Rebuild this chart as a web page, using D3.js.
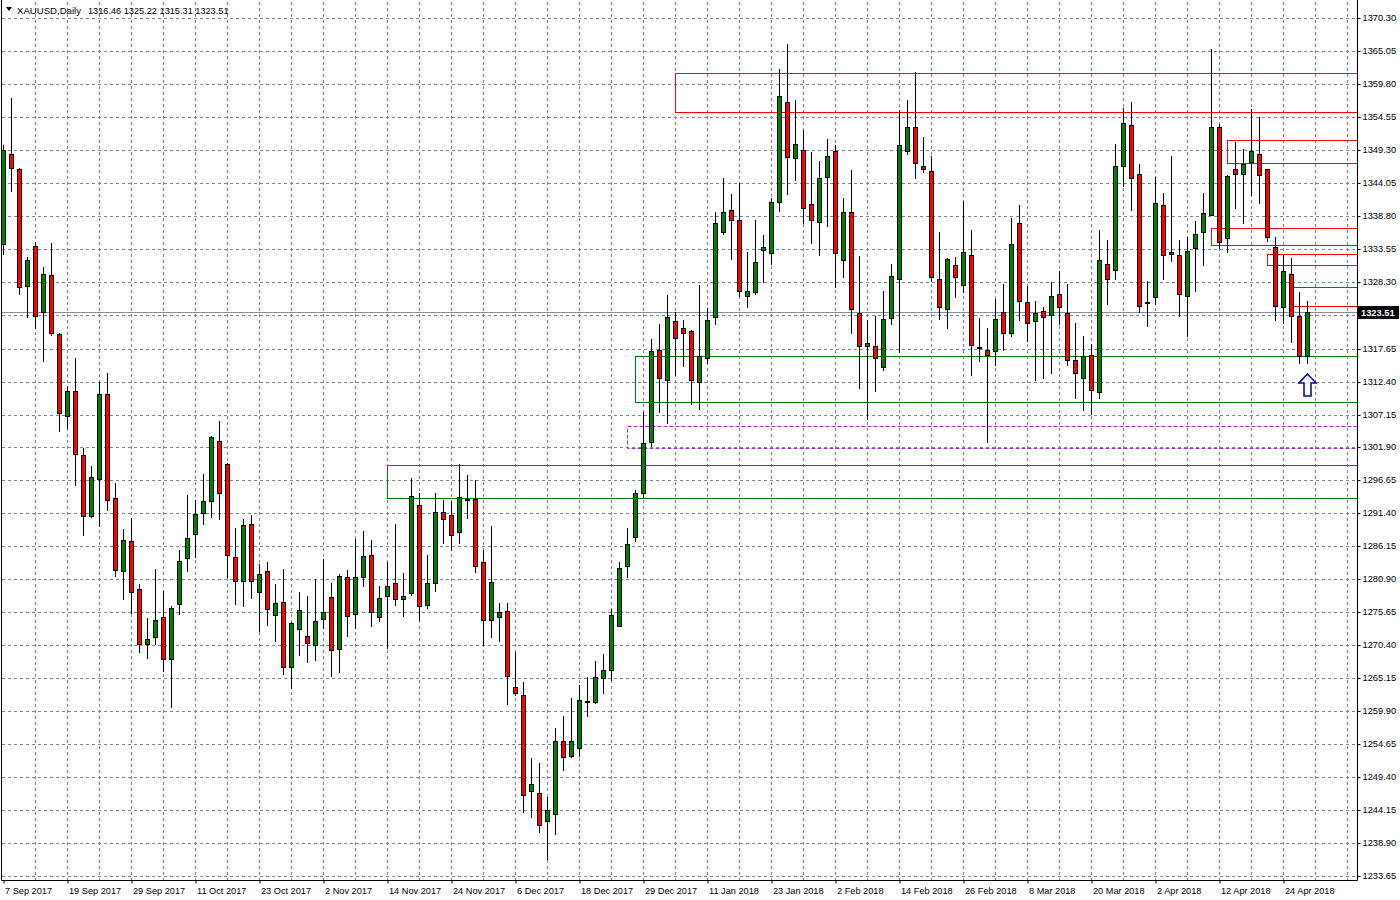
<!DOCTYPE html>
<html><head><meta charset="utf-8">
<script src="https://cdn.jsdelivr.net/npm/d3@7"></script>
<style>
body{margin:0;background:#fff;}
svg{display:block;}
text{font-family:"Liberation Sans",Arial,sans-serif;}
</style>
</head><body>
<svg id="chart" width="1400" height="900"></svg>
<script>
// ---------- DATA ----------
const symbolTitle = "XAUUSD,Daily";
const headerValues = "1316.46 1325.22 1315.31 1323.51";
const lastPrice = 1323.51;

const open = [1334.3,1348.7,1346.2,1327.6,1334.0,1323.5,1329.4,1320.0,1306.9,1310.9,
1300.7,1291.0,1296.9,1310.4,1293.9,1282.2,1287.0,1279.3,1270.6,1271.7,
1274.9,1268.2,1277.0,1284.3,1288.1,1291.5,1293.4,1302.9,1299.3,1284.5,
1280.6,1289.7,1278.9,1282.2,1275.2,1277.3,1267.0,1273.0,1271.9,1270.5,
1274.6,1278.1,1269.8,1281.2,1275.3,1281.2,1284.7,1274.9,1278.2,1280.3,
1277.7,1278.7,1292.8,1276.8,1280.3,1291.7,1291.1,1288.5,1293.5,1293.7,
1283.6,1274.4,1274.9,1275.9,1263.8,1262.4,1247.2,1246.8,1242.4,1243.6,
1255.2,1252.7,1254.1,1261.3,1261.3,1265.2,1266.4,1273.5,1283.1,1287.7,
1294.7,1302.8,1317.4,1312.6,1322.1,1320.9,1320.4,1312.3,1316.1,1322.7,
1336.2,1339.8,1338.1,1326.1,1326.6,1333.4,1332.8,1341.0,1357.0,1348.0,
1349.3,1340.6,1337.8,1344.9,1349.1,1331.7,1339.4,1323.3,1318.0,1318.0,
1314.7,1322.5,1328.8,1349.1,1353.0,1346.8,1346.0,1328.8,1323.9,1330.9,
1327.7,1332.5,1317.9,1317.5,1317.2,1323.4,1320.1,1337.6,1325.0,1322.0,
1323.6,1323.0,1326.3,1323.3,1315.9,1312.9,1316.6,1310.7,1331.1,1330.1,
1346.7,1353.2,1345.4,1324.9,1325.8,1340.5,1332.7,1332.5,1326.1,1333.6,
1336.2,1339.0,1352.9,1335.2,1346.2,1345.4,1347.3,1348.6,1346.2,1333.8,
1324.2,1329.5,1322.8,1316.46];

const high = [1350.0,1357.6,1346.4,1332.2,1334.6,1330.6,1334.4,1320.1,1311.7,1316.1,
1301.8,1298.9,1312.4,1313.8,1296.3,1288.9,1290.6,1280.2,1274.8,1282.5,
1279.1,1276.6,1285.6,1294.3,1293.6,1297.6,1303.8,1306.1,1299.4,1289.0,
1290.5,1291.1,1283.3,1283.7,1280.2,1282.5,1274.1,1278.9,1278.3,1281.0,
1284.1,1280.3,1281.8,1282.4,1287.3,1288.6,1287.2,1279.8,1283.6,1289.7,
1281.9,1297.0,1294.7,1284.7,1294.6,1293.5,1293.3,1299.2,1297.5,1296.7,
1285.5,1289.4,1277.2,1277.1,1269.4,1264.6,1252.5,1251.6,1246.2,1257.2,
1259.2,1262.0,1264.0,1265.3,1267.9,1269.0,1276.2,1283.7,1289.1,1295.2,
1307.6,1319.1,1321.6,1326.2,1323.4,1322.2,1320.6,1327.8,1324.1,1339.4,
1344.8,1342.2,1344.0,1333.1,1338.1,1335.7,1341.7,1362.1,1366.1,1357.2,
1352.4,1348.9,1347.5,1351.0,1350.0,1341.6,1346.1,1332.4,1322.2,1322.8,
1326.9,1331.1,1355.6,1357.2,1361.7,1351.3,1348.3,1336.2,1332.1,1332.2,
1341.2,1336.6,1322.5,1321.0,1325.5,1327.9,1338.4,1340.5,1327.6,1325.2,
1324.2,1328.2,1330.0,1327.9,1321.7,1319.6,1318.3,1336.6,1334.9,1350.2,
1355.9,1356.9,1347.0,1328.4,1344.9,1342.5,1348.3,1334.9,1335.5,1337.9,
1342.5,1365.3,1353.4,1345.3,1350.6,1349.4,1355.8,1354.6,1346.3,1335.4,
1332.5,1332.0,1326.6,1325.22];

const low = [1332.7,1342.7,1326.3,1322.7,1320.9,1315.6,1319.8,1304.6,1305.0,1296.0,
1288.0,1290.8,1289.4,1291.9,1281.4,1277.7,1275.5,1269.4,1268.3,1270.6,
1266.3,1260.6,1275.3,1282.2,1284.5,1289.7,1290.8,1290.5,1281.2,1276.9,
1276.6,1277.9,1272.6,1273.6,1271.0,1265.8,1263.6,1268.9,1267.8,1268.1,
1273.2,1265.5,1266.1,1271.8,1273.1,1279.9,1273.4,1274.2,1269.9,1276.8,
1275.1,1278.4,1274.4,1276.3,1279.0,1286.7,1285.5,1286.7,1290.6,1282.0,
1270.4,1271.7,1271.0,1261.0,1262.5,1243.9,1243.0,1240.6,1236.4,1240.3,
1250.5,1252.6,1252.7,1259.2,1261.2,1262.8,1264.9,1273.4,1281.2,1287.0,
1293.9,1302.2,1307.5,1305.8,1313.5,1314.8,1308.9,1308.1,1315.3,1321.5,
1335.9,1331.9,1326.0,1324.2,1326.3,1328.3,1331.2,1339.5,1342.3,1344.5,
1337.6,1334.4,1332.6,1337.2,1327.4,1329.0,1320.2,1311.4,1306.5,1310.9,
1314.2,1321.5,1317.1,1348.6,1344.8,1345.7,1328.4,1322.3,1320.9,1325.8,
1326.6,1313.4,1315.6,1302.7,1315.1,1317.5,1319.6,1322.2,1318.9,1312.7,
1313.0,1313.7,1321.5,1315.0,1309.7,1307.8,1307.2,1309.7,1324.7,1328.8,
1343.5,1339.8,1323.4,1321.2,1324.7,1328.8,1331.6,1322.8,1319.7,1326.9,
1331.0,1339.0,1333.6,1333.1,1340.0,1337.6,1342.1,1340.9,1334.8,1322.2,
1321.8,1318.7,1315.3,1315.31];

const close = [1349.3,1346.4,1327.5,1331.8,1322.9,1329.5,1320.2,1307.4,1310.9,1300.9,
1291.0,1297.2,1310.4,1293.5,1282.4,1287.1,1278.9,1270.6,1271.4,1274.4,
1268.2,1276.3,1283.8,1287.5,1291.3,1293.4,1303.5,1294.6,1284.8,1280.6,
1289.5,1280.6,1281.8,1276.2,1277.1,1267.0,1274.0,1276.0,1270.8,1274.3,
1275.7,1269.7,1281.4,1275.0,1281.2,1284.6,1275.7,1278.0,1279.8,1277.7,
1278.2,1294.1,1276.6,1280.3,1291.6,1290.5,1287.9,1294.0,1293.7,1283.1,
1274.4,1280.4,1275.7,1265.5,1262.8,1246.6,1248.3,1241.8,1244.1,1255.2,
1252.6,1255.1,1261.7,1261.5,1265.3,1266.4,1275.2,1282.7,1286.6,1294.6,
1302.6,1317.2,1312.9,1322.6,1319.3,1320.2,1312.6,1316.4,1322.2,1337.6,
1339.4,1338.2,1326.8,1326.8,1331.4,1333.8,1341.0,1357.8,1348.1,1350.2,
1340.0,1338.2,1344.8,1348.4,1332.8,1339.4,1323.9,1318.0,1318.5,1316.1,
1322.3,1329.2,1350.0,1353.0,1347.2,1346.2,1329.0,1324.2,1331.9,1329.0,
1333.0,1318.2,1317.8,1316.7,1322.3,1320.2,1334.3,1325.2,1321.8,1323.3,
1322.6,1326.0,1324.2,1315.9,1313.7,1316.4,1311.0,1331.7,1328.7,1346.8,
1353.5,1344.8,1324.5,1325.0,1340.9,1332.5,1333.0,1326.3,1333.2,1335.9,
1339.2,1352.9,1334.7,1345.1,1345.4,1347.1,1349.1,1345.3,1335.5,1324.4,
1330.0,1322.8,1316.4,1323.51];

// x-axis labels every 8 bars
const dateLabels = ["7 Sep 2017","19 Sep 2017","29 Sep 2017","11 Oct 2017","23 Oct 2017","2 Nov 2017",
"14 Nov 2017","24 Nov 2017","6 Dec 2017","18 Dec 2017","29 Dec 2017","11 Jan 2018","23 Jan 2018",
"2 Feb 2018","14 Feb 2018","26 Feb 2018","8 Mar 2018","20 Mar 2018","2 Apr 2018","12 Apr 2018","24 Apr 2018"];
const labelStep = 8;

// price axis ticks
const priceTicks = [1370.30,1365.05,1359.80,1354.55,1349.30,1344.05,1338.80,1333.55,1328.30,1323.05,
1317.65,1312.40,1307.15,1301.90,1296.65,1291.40,1286.15,1280.90,1275.65,1270.40,1265.15,1259.90,
1254.65,1249.40,1244.15,1238.90,1233.65];

// drawn zones (start bar, top price, bottom price, kind)
const zoneStart  = [84, 79, 48, 78, 153, 151, 158, 161];
const zoneTop    = [1361.50, 1316.40, 1299.05, 1305.30, 1350.80, 1336.80, 1332.65, 1327.40];
const zoneBottom = [1355.30, 1309.10, 1293.80, 1301.80, 1347.20, 1334.10, 1330.90, 1324.45];
const zoneKind   = ["supply","demand","demand","gap","supply","supply","supply","supply"];

const arrowBar = 163;
const arrowPrice = 1313.6;

// ---------- CHART ----------
const svg = d3.select("#chart");
const L = 2, R = 1357, T = 2, B = 880;
const N = open.length;

const x = d3.scaleLinear().domain([0, N - 1]).range([3.5, 3.5 + 8 * (N - 1)]);
const y = d3.scaleLinear().domain([1233.65, 1370.30]).range([876, 18]);
const px = v => Math.round(v) + 0.5;

svg.append("rect").attr("width",1400).attr("height",900).attr("fill","#fff");

svg.append("defs").append("clipPath").attr("id","plot")
  .append("rect").attr("x",L).attr("y",T).attr("width",R-L).attr("height",B-T);

const plot = svg.append("g").attr("clip-path","url(#plot)");
const gridColor = "#778899";

// horizontal grid
plot.append("g").selectAll("line").data(priceTicks).join("line")
  .attr("x1",L).attr("x2",R)
  .attr("y1",d=>px(y(d))).attr("y2",d=>px(y(d)))
  .attr("stroke",gridColor).attr("stroke-width",1).attr("stroke-dasharray","3,3");

// vertical grid every 4 bars
const vIdx = d3.range(4, 172, 4);
plot.append("g").selectAll("line").data(vIdx).join("line")
  .attr("x1",d=>x(d)).attr("x2",d=>x(d))
  .attr("y1",T).attr("y2",B)
  .attr("stroke",gridColor).attr("stroke-width",1).attr("stroke-dasharray","3,3");

// current price line
plot.append("line").attr("x1",L).attr("x2",R)
  .attr("y1",px(y(lastPrice))).attr("y2",px(y(lastPrice)))
  .attr("stroke","#8090a0").attr("stroke-width",1);

// zones
const zoneStyle = {
  supply: {stroke:"#ff0000", dash:null},
  demand: {stroke:"#008000", dash:null},
  gap:    {stroke:"#9932cc", dash:"4,2"}
};
const zones = zoneStart.map((s,i)=>({s, top:zoneTop[i], bot:zoneBottom[i], kind:zoneKind[i]}));
plot.append("g").selectAll("rect").data(zones).join("rect")
  .attr("x",d=>x(d.s)).attr("width",d=>x(N+20)-x(d.s))
  .attr("y",d=>px(y(d.top))).attr("height",d=>px(y(d.bot))-px(y(d.top)))
  .attr("fill","none")
  .attr("stroke",d=>zoneStyle[d.kind].stroke)
  .attr("stroke-dasharray",d=>zoneStyle[d.kind].dash)
  .attr("stroke-width",1);

// candles
const bars = d3.range(N).map(i=>({i,o:open[i],h:high[i],l:low[i],c:close[i]}));
const cg = plot.append("g");
cg.selectAll("line.wick").data(bars).join("line").attr("class","wick")
  .attr("x1",d=>x(d.i)).attr("x2",d=>x(d.i))
  .attr("y1",d=>Math.round(y(d.h))).attr("y2",d=>Math.round(y(d.l))+1)
  .attr("stroke","#000").attr("stroke-width",1);
bars.forEach(d=>{
  const yt = px(y(Math.max(d.o,d.c)));
  const yb = px(y(Math.min(d.o,d.c)));
  const up = d.c >= d.o;
  if (yb - yt < 1) {
    cg.append("line").attr("x1",x(d.i)-2.5).attr("x2",x(d.i)+2.5)
      .attr("y1",yt).attr("y2",yt).attr("stroke","#000").attr("stroke-width",1);
  } else {
    cg.append("rect").attr("x",x(d.i)-2).attr("width",4)
      .attr("y",yt).attr("height",yb-yt)
      .attr("fill", up ? "#008000" : "#ff0000")
      .attr("stroke","#000").attr("stroke-width",1);
  }
});

// arrow (up) below last bar
{
  const ax = x(arrowBar), ay = Math.round(y(arrowPrice));
  const p = d3.path();
  p.moveTo(ax, ay);
  p.lineTo(ax+8.5, ay+9);
  p.lineTo(ax+3.5, ay+9);
  p.lineTo(ax+3.5, ay+22);
  p.lineTo(ax-3.5, ay+22);
  p.lineTo(ax-3.5, ay+9);
  p.lineTo(ax-8.5, ay+9);
  p.closePath();
  plot.append("path").attr("d",p.toString()).attr("fill","#fff")
    .attr("stroke","#10108a").attr("stroke-width",1.6).attr("stroke-linejoin","miter");
}

// frame
svg.append("line").attr("x1",1.5).attr("x2",1.5).attr("y1",0).attr("y2",B+0.5).attr("stroke","#000");
svg.append("line").attr("x1",1.5).attr("x2",R+0.5).attr("y1",B+0.5).attr("y2",B+0.5).attr("stroke","#000");

// price axis
const yAxis = d3.axisRight(y)
  .tickValues(priceTicks.filter(v=>Math.abs(y(v)-y(lastPrice))>9))
  .tickFormat(d3.format(".2f")).tickSize(3).tickPadding(2);
const ya = svg.append("g").attr("transform",`translate(${R+0.5},0)`).call(yAxis);
ya.select(".domain").attr("d",`M0,0V${B+0.5}`).attr("stroke","#000");
ya.selectAll(".tick line").attr("stroke","#000");
ya.selectAll(".tick").attr("transform",d=>`translate(0,${px(y(d))})`);
ya.selectAll("text").attr("font-family","'Liberation Sans',Arial,sans-serif")
  .attr("font-size","9.3px").attr("fill","#000");

// last price label
{
  const ly = y(lastPrice);
  svg.append("rect").attr("x",R+1).attr("y",Math.round(ly)-6).attr("width",41).attr("height",13).attr("fill","#000");
  svg.append("text").attr("x",R+4).attr("y",Math.round(ly)+4).attr("fill","#fff")
    .attr("font-size","9.3px").attr("font-weight","bold").text(d3.format(".2f")(lastPrice));
}

// time axis
const tIdx = dateLabels.map((_,k)=>k*labelStep);
const xAxis = d3.axisBottom(x).tickValues(tIdx).tickFormat((d,k)=>dateLabels[k]).tickSize(3).tickPadding(4);
const xa = svg.append("g").attr("transform",`translate(0,${B+0.5})`).call(xAxis);
xa.select(".domain").remove();
xa.selectAll(".tick line").attr("stroke","#000");
xa.selectAll("text").attr("text-anchor","start").attr("dx","1")
  .attr("font-family","'Liberation Sans',Arial,sans-serif").attr("font-size","9.2px").attr("fill","#000");

// header
{
  const hg = svg.append("g");
  hg.append("path").attr("d","M6,7 L12,7 L9,11 Z").attr("fill","#000");
  hg.append("text").attr("x",17).attr("y",14).attr("font-size","9.6px").attr("fill","#000").text(symbolTitle);
  hg.append("text").attr("x",88).attr("y",14).attr("font-size","9.2px").attr("fill","#000").text(headerValues);
}
</script>
</body></html>
